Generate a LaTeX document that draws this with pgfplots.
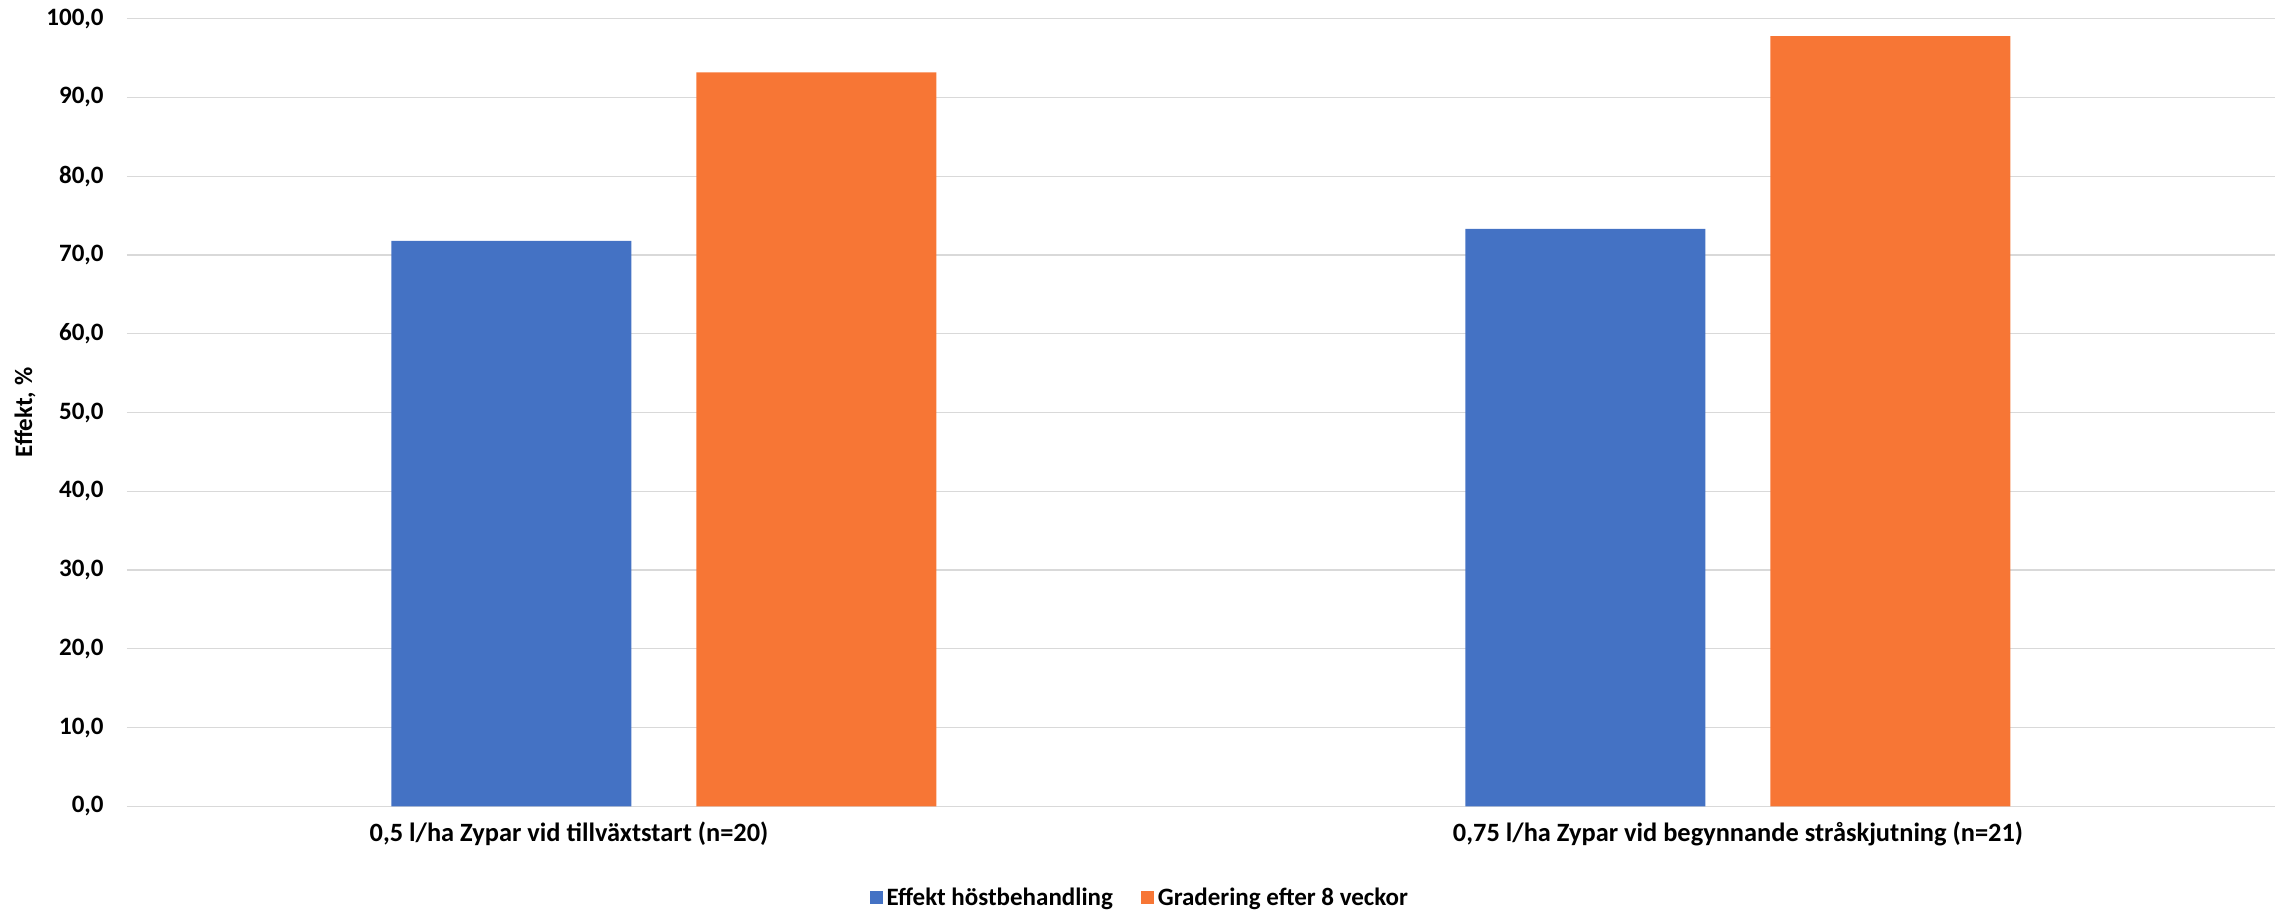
\documentclass[border=0pt]{standalone}
\usepackage{fontspec}
\setmainfont{Carlito}
\usepackage{pgfplots}
\pgfplotsset{compat=1.18}
\definecolor{cblue}{RGB}{68,114,196}
\definecolor{corange}{RGB}{247,118,53}
\definecolor{cgrid}{RGB}{217,217,217}
\begin{document}
\begin{tikzpicture}
\useasboundingbox (-63.5pt,-52.35pt) rectangle (1076pt,403.15pt);
\begin{axis}[
  at={(0pt,0pt)}, anchor=south west,
  scale only axis, width=1074pt, height=393.8pt,
  xmin=-0.5, xmax=1.5, ymin=0, ymax=100,
  ybar, bar width=120pt,
  xtick={0,1},
  xticklabels={{0,5 l/ha Zypar vid tillväxtstart (n=20)\rule{95pt}{0pt}},{0,75 l/ha Zypar vid begynnande stråskjutning (n=21)}},
  ytick={0,10,...,100},
  ymajorgrids, grid style={cgrid, line width=0.65pt},
  axis line style={draw=none},
  major tick length=0pt,
  tick label style={font=\bfseries\fontsize{12.5}{15}\selectfont},
  yticklabel style={anchor=east, inner sep=0pt, xshift=-11.5pt,
    /pgf/number format/fixed, /pgf/number format/fixed zerofill,
    /pgf/number format/precision=1, /pgf/number format/use comma,
    /pgf/number format/assume math mode=true},
  xticklabel style={anchor=north, inner sep=0pt, yshift=-7.5pt, font=\bfseries\fontsize{13.2}{16}\selectfont},
  ylabel={Effekt, \%},
  ylabel style={font=\bfseries\fontsize{12.5}{15}\selectfont, at={(axis description cs:-0.0475,0.5)}, anchor=center},
  legend style={at={(axis description cs:0.472,-0.1164)}, anchor=center, draw=none,
    font=\bfseries\fontsize{12.5}{15}\selectfont,
    /tikz/every even column/.append style={column sep=12pt}},
  legend columns=2, legend cell align=left,
  legend image code/.code={\fill[#1] (0pt,-3.25pt) rectangle (6.5pt,3.25pt);},
]
\addplot[fill=cblue, draw=none, bar shift=-76.25pt] coordinates {(0,71.8) (1,73.3)};
\addplot[fill=corange, draw=none, bar shift=76.25pt] coordinates {(0,93.2) (1,97.8)};
\legend{Effekt höstbehandling, Gradering efter 8 veckor}
\end{axis}
\end{tikzpicture}
\end{document}
